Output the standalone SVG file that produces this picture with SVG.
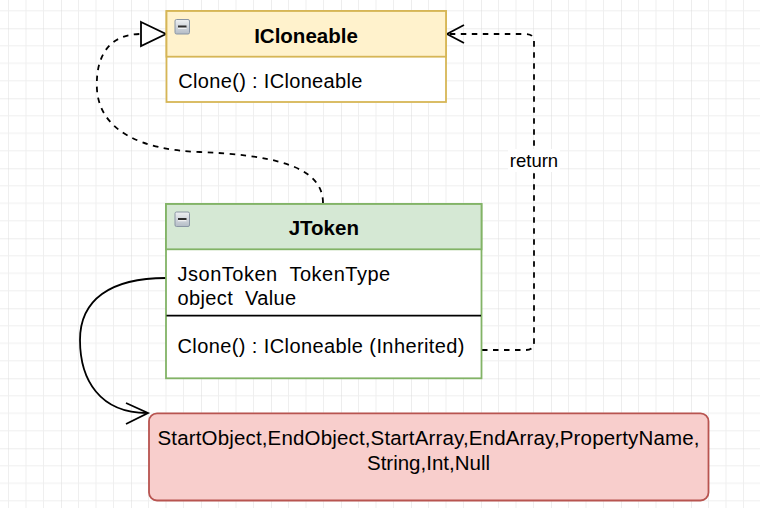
<svg xmlns="http://www.w3.org/2000/svg" width="760" height="508" viewBox="0 0 760 508">
<style>
text{font-family:"Liberation Sans",Arial,sans-serif;fill:#000;white-space:pre}
.hdr{font-size:20.5px;font-weight:bold;text-anchor:middle}
.body{font-size:20px}
.lbl{font-size:18.5px}
.red{font-size:20.5px;text-anchor:middle}
.edge{fill:none;stroke:#000;stroke-width:1.8}
.dash{stroke-dasharray:5.5 5.5}
</style>
<defs>
<pattern id="grid" patternUnits="userSpaceOnUse" x="61" y="28.3" width="70" height="70">
<path d="M17.5 0V70M35 0V70M52.5 0V70M0 17.5H70M0 35H70M0 52.5H70" stroke="#efefef" stroke-width="1" fill="none"/>
<path d="M0 0V70M0 0H70" stroke="#dcdcdc" stroke-width="1" fill="none"/>
</pattern>
<linearGradient id="icon" x1="0" y1="0" x2="0" y2="1">
<stop offset="0" stop-color="#eef0f2"/>
<stop offset="1" stop-color="#b4bcc6"/>
</linearGradient>
<g id="minus">
<rect x="0" y="0" width="14.5" height="14.5" rx="1.5" fill="url(#icon)" stroke="#8a96a4" stroke-width="1"/>
<rect x="3" y="6" width="8.5" height="2.2" fill="#2f2f2f"/>
<rect x="3" y="8.2" width="8.5" height="1" fill="#ffffff"/>
</g>
</defs>
<rect width="760" height="508" fill="#ffffff"/>
<rect width="760" height="508" fill="url(#grid)"/>

<g id="connectors">
<path class="edge dash" d="M323 203 C323 165 270 155 200 152 C140 150 100 130 97 90 C95 55 110 34 141 34"/>
<path d="M141 22 L166 34 L141 46 Z" fill="#ffffff" stroke="#000" stroke-width="1.8"/>
<path class="edge dash" d="M482 350 L526 350 Q534 350 534 342 L534 42 Q534 34 526 34 L448 34"/>
<path class="edge" d="M464 25 L447 34 L464 43"/>
<rect x="508" y="149" width="52" height="23" fill="#ffffff"/>
<text class="lbl" x="534" y="166.5" text-anchor="middle">return</text>
<path class="edge" d="M166 278 C110 278 80 300 80 340 C80 380 100 413 147 413"/>
<path class="edge" d="M126 403 L148 413 L126 424"/>
</g>

<g id="ICloneable">
<rect x="166.5" y="11" width="279.5" height="91" fill="#ffffff" stroke="#d6b656" stroke-width="1.8"/>
<rect x="166.5" y="11" width="279.5" height="45.7" fill="#fff2cc" stroke="#d6b656" stroke-width="1.8"/>
<use href="#minus" x="175" y="19.5"/>
<text class="hdr" x="306" y="43.3">ICloneable</text>
<text class="body" x="178.3" y="88" textLength="184" lengthAdjust="spacing">Clone() : ICloneable</text>
</g>

<g id="JToken">
<rect x="166" y="204" width="315.5" height="174.3" fill="#ffffff" stroke="#82b366" stroke-width="1.8"/>
<rect x="166" y="204" width="315.5" height="45.3" fill="#d5e8d4" stroke="#82b366" stroke-width="1.8"/>
<use href="#minus" x="175" y="212"/>
<text class="hdr" x="323.8" y="235">JToken</text>
<text class="body" x="177.5" y="281" textLength="212.7" lengthAdjust="spacing">JsonToken  TokenType</text>
<text class="body" x="177.5" y="304.5" textLength="118.7" lengthAdjust="spacing">object  Value</text>
<line x1="166.5" y1="315.7" x2="481" y2="315.7" stroke="#000" stroke-width="1.8"/>
<text class="body" x="177.5" y="353.3" textLength="287" lengthAdjust="spacing">Clone() : ICloneable (Inherited)</text>
</g>

<g id="JsonTokenValues">
<rect x="149" y="413.3" width="559.5" height="87.2" rx="8" fill="#f8cecc" stroke="#b85450" stroke-width="1.8"/>
<text class="red" x="428.5" y="444.5" textLength="542" lengthAdjust="spacing">StartObject,EndObject,StartArray,EndArray,PropertyName,</text>
<text class="red" x="428.5" y="470">String,Int,Null</text>
</g>
</svg>
